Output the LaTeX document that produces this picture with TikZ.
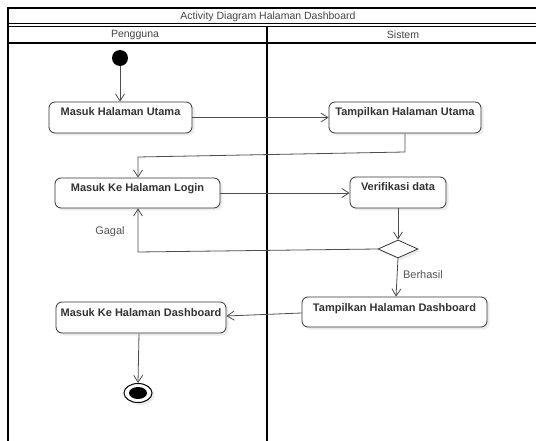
\documentclass[tikz,border=0pt]{standalone}
\usepackage{fontspec}
\setmainfont{Liberation Sans}
\usetikzlibrary{arrows.meta,shapes.geometric,shadows}
\definecolor{txt}{HTML}{333333}
\definecolor{lbl}{HTML}{555555}
\definecolor{hd}{HTML}{444444}
\definecolor{ln}{HTML}{4D4D4D}
\begin{document}
\begin{tikzpicture}[x=1pt,y=-1pt,
  actbox/.style={draw=txt, line width=0.8pt, rounded corners=6pt, fill=white,
    drop shadow={opacity=0.15, shadow xshift=2.5pt, shadow yshift=-2.5pt},
    font=\fontsize{11}{13}\selectfont\bfseries, text=txt, inner xsep=2pt, inner ysep=4pt,
    text height=10pt, text depth=13pt, minimum height=31pt},
  conn/.style={draw=ln, line width=0.8pt, -{Straight Barb[length=7pt,width=9pt]}},
  hdr/.style={font=\fontsize{10.5}{12}\selectfont, text=hd},
  lab/.style={font=\fontsize{11}{13}\selectfont, text=lbl}]
\useasboundingbox (0,0) rectangle (536,441);
\fill[white] (0,0) rectangle (536,441);
% frame
\draw[line width=1.5pt] (8,8) rectangle (545,450);
\draw[line width=1pt] (8,24) -- (545,24);
\draw[line width=1pt] (8,26.5) -- (545,26.5);
\draw[line width=1.5pt] (8,43) -- (545,43);
\draw[line width=2pt] (267,26.5) -- (267,450);
\node[hdr] (title) at (268,16.5) {Activity Diagram Halaman Dashboard};
\node[hdr] (lane1) at (135,35) {Pengguna};
\node[hdr] (lane2) at (403,35) {Sistem};
% nodes
\node[circle, fill=black, minimum size=16pt, inner sep=0pt] (init) at (120,58) {};
\node[actbox, minimum width=143pt] (hu) at (120.5,117.5) {Masuk Halaman Utama};
\node[actbox, minimum width=152pt] (thu) at (405,117.5) {Tampilkan Halaman Utama};
\node[actbox, minimum width=165pt, minimum height=30pt, text depth=12pt] (login) at (137.5,193) {Masuk Ke Halaman Login};
\node[actbox, minimum width=96pt] (verif) at (398,192.5) {Verifikasi data};
\node[diamond, draw=txt, line width=0.8pt, fill=white, minimum width=40pt, minimum height=18pt, inner sep=0pt, aspect=2.2,
  drop shadow={opacity=0.15, shadow xshift=2.5pt, shadow yshift=-2.5pt}] (dec) at (398,249) {};
\node[actbox, minimum width=185pt, minimum height=30pt, text depth=12pt] (td) at (394.5,312) {Tampilkan Halaman Dashboard};
\node[actbox, minimum width=170pt] (md) at (141,317.5) {Masuk Ke Halaman Dashboard};
\node[ellipse, draw=black, line width=1pt, fill=white, minimum width=28pt, minimum height=19pt, inner sep=0pt,
  drop shadow={opacity=0.15, shadow xshift=2.5pt, shadow yshift=-2.5pt}] (fin) at (138,393) {};
\node[ellipse, fill=black, minimum width=18pt, minimum height=12pt, inner sep=0pt] (fininner) at (fin.center) {};
% connectors
\coordinate (c1) at (405,152);
\coordinate (c2) at (138,157);
\coordinate (c3) at (138,252);
\draw[conn] (init) -- (hu.north -| init);
\draw[conn] (hu.east) -- (thu.west |- hu.east);
\draw[conn] (thu.south -| c1) -- (c1) -- (c2) -- (login.north -| c2);
\draw[conn] (login.east) -- (verif.west |- login.east);
\draw[conn] (verif.south) -- (dec.north);
\draw[conn] (dec.west) -- (c3) -- (login.south -| c3);
\draw[conn] (dec.south) -- (td.north -| 396,0);
\draw[conn] (td.west |- 0,313) -- (md.east |- 0,316);
\draw[conn] (md.south -| 139,0) -- (fin.north);
% labels
\node[lab] (gagal) at (110,232) {Gagal};
\node[lab] (berhasil) at (423,275) {Berhasil};
\end{tikzpicture}
\end{document}
